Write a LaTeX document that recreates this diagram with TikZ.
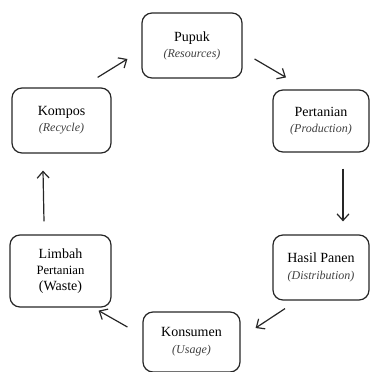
\documentclass[tikz,border=0pt]{standalone}
\usepackage{fontspec}
\setmainfont{Liberation Serif}
\usetikzlibrary{arrows.meta}
\tikzset{
  box/.style={draw=black!85, line width=0.9pt, rounded corners=7.5pt, align=center, inner sep=0pt, font=\fontsize{10.5}{12}\selectfont},
  arr/.style={draw=black!85, line width=0.9pt, -{Straight Barb[length=5pt,width=9pt,line width=0.9pt]}},
}
\newcommand{\sub}[1]{{\fontsize{9}{12}\selectfont\itshape\color{black!75}#1}}
\begin{document}
\begin{tikzpicture}[x=0.75pt,y=-0.75pt]
\useasboundingbox (0,0) rectangle (370,372);
\node[box, minimum width=75pt, minimum height=48.75pt] (pupuk) at (192,45.5) {Pupuk\\\sub{(Resources)}};
\node[box, minimum width=72pt, minimum height=46.5pt] (pert) at (321,121) {Pertanian\\\sub{(Production)}};
\node[box, minimum width=72pt, minimum height=48.75pt] (hasil) at (321,267.5) {Hasil Panen\\[1pt]\sub{(Distribution)}};
\node[box, minimum width=72.75pt, minimum height=45pt] (kons) at (191.5,342) {Konsumen\\[1pt]\sub{(Usage)}};
\node[box, minimum width=75.75pt, minimum height=54pt] (limbah) at (60.5,271) {Limbah\\{\fontsize{9.5}{11}\selectfont Pertanian}\\(Waste)};
\node[box, minimum width=74.25pt, minimum height=48.75pt] (kompos) at (61.5,120.5) {Kompos\\\sub{(Recycle)}};
\draw[arr] ([shift={(-14,-10)}]kompos.north east) -- ([shift={(-14,13.5)}]pupuk.west);
\draw[arr] ([shift={(12,13.5)}]pupuk.east) -- ([shift={(-35,-12)}]pert.north);
\draw[arr] ([shift={(22,16)}]pert.south) -- ([shift={(22,-13)}]hasil.north);
\draw[arr] ([shift={(-36,8)}]hasil.south) -- ([shift={(15,-14)}]kons.east);
\draw[arr] ([shift={(-15,-15)}]kons.west) -- ([shift={(-13,3)}]limbah.south east);
\draw[arr] ([shift={(-16.5,-13)}]limbah.north) -- ([shift={(-18.5,17)}]kompos.south);
\end{tikzpicture}
\end{document}
